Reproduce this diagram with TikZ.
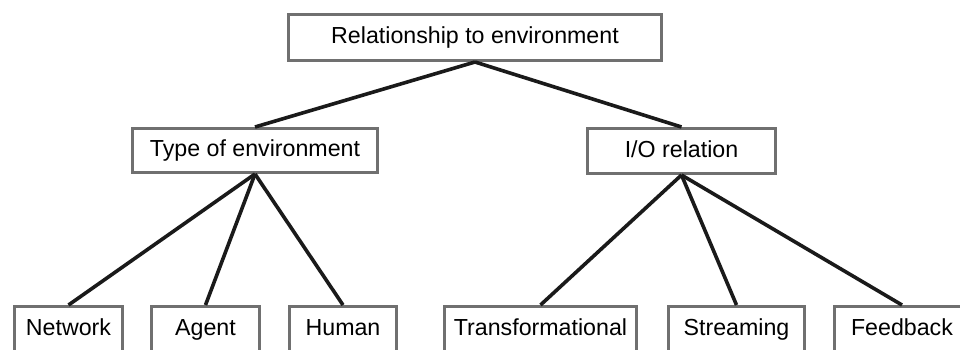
\documentclass[tikz,border=0pt]{standalone}
\usepackage{fontspec}
\setmainfont{Liberation Sans}
\usepackage{xcolor}
\usepackage{tikz}
\definecolor{boxgray}{RGB}{112, 112, 112}
\definecolor{linkblack}{RGB}{26, 26, 26}

\begin{document}
\begin{tikzpicture}[x=1pt, y=-1pt,
    box/.style={draw=boxgray, line width=3pt, rectangle, fill=white, inner sep=0pt, minimum height=45pt, text height=16.6pt, text depth=4.6pt, font=\fontsize{23.2}{27}\selectfont},
    link/.style={draw=linkblack, line width=3.6pt}]
            \useasboundingbox (0,0) rectangle (960,349);

            % Root
            \node[box, minimum width=373pt, minimum height=46pt] (root) at (475,37.5) {Relationship to environment};

            % Second level
            \node[box, minimum width=245pt, minimum height=44pt] (envtype) at (255,150.5) {Type of environment};
            \node[box, minimum width=188pt] (iorel) at (681.5,151) {I/O relation};

            % Leaves
            \node[box, minimum width=108pt] (network) at (68.5,329) {Network};
            \node[box, minimum width=108pt] (agent) at (205.5,329) {Agent};
            \node[box, minimum width=107pt] (human) at (343,329) {Human};
            \node[box, minimum width=192pt] (transform) at (540.5,329) {Transformational};
            \node[box, minimum width=136pt] (stream) at (736.5,329) {Streaming};
            \node[box, minimum width=136pt] (feedback) at (902,329) {Feedback};

            % Links
            \draw[link] (root.south) -- (envtype.north);
            \draw[link] (root.south) -- (iorel.north);
            \draw[link] (envtype.south) -- (network.north);
            \draw[link] (envtype.south) -- (agent.north);
            \draw[link] (envtype.south) -- (human.north);
            \draw[link] (iorel.south) -- (transform.north);
            \draw[link] (iorel.south) -- (stream.north);
            \draw[link] (iorel.south) -- (feedback.north);
        \end{tikzpicture}
\end{document}
